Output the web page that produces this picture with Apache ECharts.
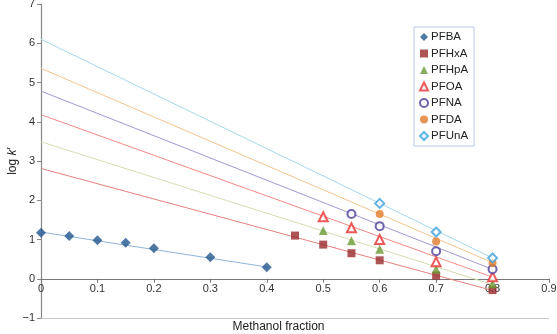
<!DOCTYPE html>
<html>
<head>
<meta charset="utf-8">
<script src="https://cdn.jsdelivr.net/npm/echarts@6/dist/echarts.min.js"></script>
<style>
  html, body { margin: 0; padding: 0; background: #fff; }
  #chart { width: 557px; height: 334px; }
</style>
</head>
<body>
<div id="chart"></div>
<script>
// series names and methanol fractions / log k'
var names = ['PFBA', 'PFHxA', 'PFHpA', 'PFOA', 'PFNA', 'PFDA', 'PFUnA'];

var xPFBA = [0, 0.05, 0.1, 0.15, 0.2, 0.3, 0.4];
var yPFBA = [1.17, 1.09, 0.98, 0.92, 0.78, 0.55, 0.29];
var xPFHxA = [0.45, 0.5, 0.55, 0.6, 0.7, 0.8];
var yPFHxA = [1.10, 0.87, 0.65, 0.47, 0.08, -0.29];
var xPFHpA = [0.5, 0.55, 0.6, 0.7, 0.8];
var yPFHpA = [1.23, 0.97, 0.75, 0.24, -0.13];
var xPFOA = [0.5, 0.55, 0.6, 0.7, 0.8];
var yPFOA = [1.58, 1.30, 1.00, 0.43, 0.05];
var xPFNA = [0.55, 0.6, 0.7, 0.8];
var yPFNA = [1.65, 1.34, 0.70, 0.24];
var xPFDA = [0.6, 0.7, 0.8];
var yPFDA = [1.65, 0.95, 0.40];
var xPFUnA = [0.6, 0.7, 0.8];
var yPFUnA = [1.92, 1.19, 0.53];

// trendlines: value at x=0 and at the end fraction
var trendEndX = [0.4, 0.8, 0.8, 0.8, 0.8, 0.8, 0.8];
var trendStart = [1.19, 2.81, 3.49, 4.18, 4.78, 5.36, 6.10];
var trendEnd = [0.30, -0.30, -0.15, 0.04, 0.24, 0.41, 0.53];

var xTicks = [0, 0.1, 0.2, 0.3, 0.4, 0.5, 0.6, 0.7, 0.8, 0.9];

var xs = [xPFBA, xPFHxA, xPFHpA, xPFOA, xPFNA, xPFDA, xPFUnA];
var ys = [yPFBA, yPFHxA, yPFHpA, yPFOA, yPFNA, yPFDA, yPFUnA];

var symbols = ['diamond', 'rect', 'triangle', 'emptyTriangle', 'emptyCircle', 'circle', 'emptyDiamond'];
var sizes = [10, 8, 9, 9, 8, 8, 9];
var markColors = ['#24568f', '#982a2c', '#6c9a32', '#e8312f', '#4b3d98', '#e07a2a', '#3fa0dc'];
var lineColors = ['#8fb3de', '#e8817e', '#d3deb0', '#f08a86', '#a497d2', '#f5c28e', '#a6d7ef'];

var FONT = '"Liberation Sans", Arial, sans-serif';

var GRID_TOP = 4, GRID_BOTTOM = 16, H = 334;
var yMin = -1, yMax = 7;
// distance (px) from the bottom of the grid up to y = 0
var zeroOffset = (0 - yMin) / (yMax - yMin) * (H - GRID_TOP - GRID_BOTTOM);

var chartDom = document.getElementById('chart');
var myChart = echarts.init(chartDom);

var series = [];
for (var i = 0; i < names.length; i++) {
  series.push({
    name: names[i] + ' trend',
    type: 'line',
    data: [[0, trendStart[i]], [trendEndX[i], trendEnd[i]]],
    showSymbol: false,
    symbol: 'none',
    silent: true,
    lineStyle: { color: lineColors[i], width: 1 },
    z: 2
  });
}
// light border line along the bottom of the plot (y = -1)
series[0].markLine = {
  silent: true,
  symbol: 'none',
  label: { show: false },
  lineStyle: { color: '#c8c8c8', width: 1.2, type: 'solid' },
  data: [{ yAxis: yMin }]
};
for (var i = 0; i < names.length; i++) {
  var pts = [];
  for (var j = 0; j < xs[i].length; j++) pts.push([xs[i][j], ys[i][j]]);
  var hollow = symbols[i].indexOf('empty') === 0;
  series.push({
    name: names[i],
    type: 'scatter',
    data: pts,
    symbol: symbols[i],
    symbolSize: sizes[i],
    itemStyle: hollow
      ? { color: markColors[i], borderColor: markColors[i], borderWidth: 1.6 }
      : { color: markColors[i] },
    z: 5
  });
}

var option = {
  animation: false,
  textStyle: { fontFamily: FONT },
  title: {
    text: 'Methanol fraction',
    left: 'center',
    top: 321,
    padding: 0,
    textStyle: { color: '#222', fontSize: 12, fontWeight: 'normal', fontFamily: FONT }
  },
  grid: { left: 41, right: 8, top: GRID_TOP, bottom: GRID_BOTTOM, containLabel: false, outerBoundsMode: 'none' },
  legend: {
    data: names,
    orient: 'vertical',
    left: 414,
    top: 27,
    width: 63,
    padding: [4, 6, 4, 5],
    itemGap: 4.5,
    itemWidth: 8,
    itemHeight: 8,
    borderColor: '#b9c8e4',
    borderWidth: 1,
    textStyle: { fontSize: 11.5, color: '#222', fontFamily: FONT, padding: [0, 0, 0, -2] }
  },
  xAxis: {
    type: 'value',
    min: 0,
    max: 0.9,
    interval: 0.1,
    position: 'bottom',
    offset: -zeroOffset,
    axisLine: { onZero: false, lineStyle: { color: '#777', width: 1.2 } },
    axisTick: { show: true, length: 4, lineStyle: { color: '#777' } },
    axisLabel: {
      color: '#333', fontSize: 11, margin: 5,
      formatter: function (v) {
        var k = Math.round(v * 10) / 10;
        return xTicks.indexOf(k) >= 0 ? String(k) : '';
      }
    },
    splitLine: { show: false }
  },
  yAxis: {
    type: 'value',
    min: yMin,
    max: yMax,
    interval: 1,
    axisLine: { show: true, onZero: false, lineStyle: { color: '#888', width: 1.2 } },
    axisTick: { show: true, length: 4, lineStyle: { color: '#888' } },
    axisLabel: {
      color: '#333', fontSize: 11, margin: 6,
      formatter: function (v) { return String(v).replace('-', '\u2212'); }
    },
    splitLine: { show: false },
    name: 'log {i|k}\u2032',
    nameLocation: 'middle',
    nameGap: 22,
    nameMoveOverlap: false,
    nameRotate: 90,
    nameTextStyle: {
      color: '#222', fontSize: 12, fontFamily: FONT,
      rich: { i: { fontStyle: 'italic', fontSize: 12, color: '#222', fontFamily: FONT } }
    }
  },
  series: series
};

option && myChart.setOption(option);
</script>
</body>
</html>
